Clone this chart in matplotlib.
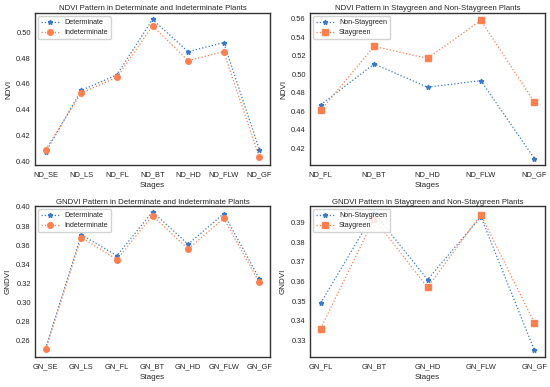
import matplotlib
matplotlib.use("Agg")
import matplotlib.pyplot as plt
import seaborn as sns

sns.set_theme(style="white")
plt.rcParams['font.family'] = ['Liberation Sans', 'DejaVu Sans']

nd_stages_a = ["ND_SE", "ND_LS", "ND_FL", "ND_BT", "ND_HD", "ND_FLW", "ND_GF"]
nd_det = [0.407, 0.455, 0.467, 0.510, 0.485, 0.492, 0.409]
nd_indet = [0.409, 0.453, 0.465, 0.505, 0.478, 0.485, 0.403]

nd_stages_b = ["ND_FL", "ND_BT", "ND_HD", "ND_FLW", "ND_GF"]
nd_nonsg = [0.467, 0.511, 0.486, 0.493, 0.409]
nd_sg = [0.461, 0.530, 0.517, 0.558, 0.470]

gn_stages_a = ["GN_SE", "GN_LS", "GN_FL", "GN_BT", "GN_HD", "GN_FLW", "GN_GF"]
gn_det = [0.252, 0.371, 0.349, 0.395, 0.361, 0.393, 0.325]
gn_indet = [0.251, 0.368, 0.345, 0.391, 0.356, 0.388, 0.321]

gn_stages_b = ["GN_FL", "GN_BT", "GN_HD", "GN_FLW", "GN_GF"]
gn_nonsg = [0.349, 0.395, 0.361, 0.393, 0.325]
gn_sg = [0.336, 0.392, 0.357, 0.394, 0.339]

blue = "#3a78c9"
orange = "#ff7f4f"

fig = plt.figure(figsize=(5.5, 3.87), dpi=100)
W, H = 550, 387
def ax_at(l, t, r, b):
    return fig.add_axes([l / W, 1 - b / H, (r - l) / W, (b - t) / H])

axes = [ax_at(35, 13, 270, 165), ax_at(310, 13, 545, 165),
        ax_at(35, 206, 270, 357), ax_at(310, 206, 545, 357)]

panels = [
    (nd_stages_a, nd_det, nd_indet, "Determinate", "Indeterminate", "o",
     "NDVI Pattern in Determinate and Indeterminate Plants", "NDVI",
     [0.40, 0.42, 0.44, 0.46, 0.48, 0.50]),
    (nd_stages_b, nd_nonsg, nd_sg, "Non-Staygreen", "Staygreen", "s",
     "NDVI Pattern in Staygreen and Non-Staygreen Plants", "NDVI",
     [0.42, 0.44, 0.46, 0.48, 0.50, 0.52, 0.54, 0.56]),
    (gn_stages_a, gn_det, gn_indet, "Determinate", "Indeterminate", "o",
     "GNDVI Pattern in Determinate and Indeterminate Plants", "GNDVI",
     [0.26, 0.28, 0.30, 0.32, 0.34, 0.36, 0.38, 0.40]),
    (gn_stages_b, gn_nonsg, gn_sg, "Non-Staygreen", "Staygreen", "s",
     "GNDVI Pattern in Staygreen and Non-Staygreen Plants", "GNDVI",
     [0.33, 0.34, 0.35, 0.36, 0.37, 0.38, 0.39]),
]

fs = 5.4
for ax, (stages, s1, s2, l1, l2, m2, title, ylab, yt) in zip(axes, panels):
    ax.plot(stages, s1, linestyle=":", marker="*", color=blue, lw=0.9, ms=3.5, label=l1)
    ax.plot(stages, s2, linestyle=":", marker=m2, color=orange, lw=0.9, ms=4, label=l2)
    ax.set_title(title, fontsize=5.6, pad=1.8, color="#262626")
    ax.set_xlabel("Stages", fontsize=5.8, labelpad=2.5)
    ax.set_ylabel(ylab, fontsize=5.8, labelpad=3)
    ax.set_yticks(yt)
    ax.set_yticklabels([f"{v:.2f}" for v in yt])
    ax.tick_params(axis="y", labelsize=fs, pad=3, length=0)
    ax.tick_params(axis="x", labelsize=fs, pad=4.5, length=0)
    for sp in ax.spines.values():
        sp.set_color("#333333")
        sp.set_linewidth(1.0)
    ax.legend(loc="upper left", fontsize=5.1, frameon=True, borderpad=0.45,
              handlelength=2.5, labelspacing=0.4, framealpha=0.85,
              borderaxespad=0.45, handletextpad=0.7)

axes[0].set_ylim(0.397, 0.515)
axes[1].set_ylim(0.402, 0.566)
axes[2].set_ylim(0.243, 0.401)
axes[3].set_ylim(0.3215, 0.3985)

fig.savefig("out.png", dpi=100)
